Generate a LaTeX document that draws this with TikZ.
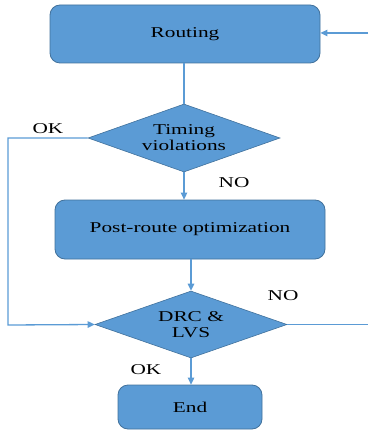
\documentclass[tikz,border=0pt]{standalone}
\usepackage{fontspec}
\setmainfont[FakeStretch=1.42]{Liberation Serif}
\usetikzlibrary{shapes.geometric,arrows.meta}
\definecolor{boxfill}{HTML}{5B9BD5}
\definecolor{boxline}{HTML}{41719C}
\definecolor{conn}{HTML}{5B9BD5}
\begin{document}
\begin{tikzpicture}[x=1pt,y=-1pt,
  txt/.style={font=\fontsize{15}{16}\selectfont, text=black},
  procbox/.style={draw=boxline, line width=0.8pt, fill=boxfill, rounded corners=10pt, inner sep=0pt, txt},
  decision/.style={diamond, draw=boxline, line width=0.6pt, fill=boxfill, inner sep=0pt, aspect=2.8, align=center, txt},
  conline/.style={draw=conn, line width=1.3pt},
  arr/.style={conline, -{Triangle[length=7pt,width=6.5pt]}},
  lbl/.style={font=\fontsize{15}{16}\selectfont, text=black, inner sep=0pt}]
\useasboundingbox (0,0) rectangle (368,430);
\node[procbox, minimum width=270pt, minimum height=58pt] (routing) at (185,34) {Routing};
\node[decision, minimum width=192pt, minimum height=68pt] (timing) at (184,138) {Timing\\violations};
\node[procbox, minimum width=270pt, minimum height=59pt] (post) at (190,229.5) {Post-route optimization};
\node[decision, minimum width=192pt, minimum height=67pt] (drc) at (191,324.5) {DRC \&\\LVS};
\node[procbox, minimum width=144pt, minimum height=44pt] (end) at (190,407) {End};
\coordinate (okL) at (8,138);
\coordinate (okB) at (8,325);
\coordinate (noR) at (368,324.5);
\coordinate (retR) at (368,33);
\draw[conline] (routing.south -| timing.north) -- (timing.north);
\draw[arr] (timing.south) -- (post.north -| timing.south);
\draw[arr] (post.south -| drc.north) -- (drc.north);
\draw[arr] (drc.south) -- (end.north -| drc.south);
\draw[arr] (timing.west) -- (okL) -- (okB) -- (drc.west);
\draw[conline] (drc.east) -- (noR);
\draw[arr] (retR) -- (routing.east |- retR);
\node[lbl] (ok1) at (48,129) {OK};
\node[lbl] (no1) at (234,183) {NO};
\node[lbl] (no2) at (283,296) {NO};
\node[lbl] (ok2) at (146,370) {OK};
\end{tikzpicture}
\end{document}
